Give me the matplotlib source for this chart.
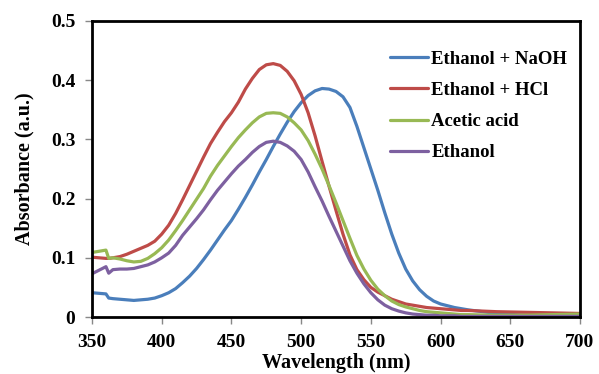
import matplotlib
matplotlib.use('Agg')
import matplotlib.pyplot as plt

plt.rcParams['font.family'] = ['Liberation Serif', 'DejaVu Serif']
plt.rcParams['font.weight'] = 'bold'

# wavelength grid (nm)
wavelength = [350, 355, 360, 362, 365, 370, 375, 380, 385, 390, 395, 400, 405, 410,
              415, 420, 425, 430, 435, 440, 445, 450, 455, 460, 465, 470, 475, 480,
              485, 490, 495, 500, 505, 510, 515, 520, 525, 530, 535, 540, 545, 550,
              555, 560, 565, 570, 575, 580, 585, 590, 595, 600, 605, 610, 615, 620,
              640, 660, 680, 700]

naoh = [0.041, 0.040, 0.039, 0.032, 0.031, 0.030, 0.029, 0.028, 0.029, 0.030, 0.032, 0.036, 0.041, 0.048,
        0.058, 0.069, 0.082, 0.097, 0.113, 0.130, 0.147, 0.163, 0.182, 0.202, 0.223, 0.245, 0.266, 0.288,
        0.309, 0.329, 0.347, 0.362, 0.374, 0.382, 0.386, 0.385, 0.381, 0.372, 0.354, 0.322, 0.286, 0.250,
        0.214, 0.176, 0.140, 0.108, 0.081, 0.061, 0.046, 0.035, 0.027, 0.022, 0.019, 0.016, 0.014, 0.012,
        0.006, 0.003, 0.002, 0.002]

hcl = [0.101, 0.100, 0.099, 0.099, 0.100, 0.102, 0.106, 0.111, 0.116, 0.121, 0.128, 0.140, 0.155, 0.175,
       0.198, 0.222, 0.246, 0.270, 0.293, 0.312, 0.330, 0.345, 0.363, 0.385, 0.403, 0.418, 0.426, 0.428,
       0.425, 0.415, 0.399, 0.376, 0.345, 0.306, 0.263, 0.221, 0.180, 0.140, 0.105, 0.080, 0.063, 0.050,
       0.042, 0.036, 0.030, 0.026, 0.022, 0.020, 0.018, 0.016, 0.015, 0.014, 0.013, 0.012, 0.011, 0.011,
       0.009, 0.008, 0.007, 0.006]

acetic = [0.109, 0.111, 0.113, 0.099, 0.100, 0.098, 0.095, 0.093, 0.094, 0.099, 0.107, 0.117, 0.130, 0.146,
          0.163, 0.181, 0.199, 0.217, 0.238, 0.256, 0.272, 0.288, 0.303, 0.316, 0.328, 0.338, 0.344, 0.345,
          0.344, 0.338, 0.328, 0.316, 0.298, 0.275, 0.250, 0.222, 0.193, 0.163, 0.133, 0.104, 0.081, 0.062,
          0.047, 0.036, 0.027, 0.021, 0.017, 0.014, 0.011, 0.009, 0.008, 0.007, 0.006, 0.005, 0.004, 0.004,
          0.003, 0.003, 0.004, 0.005]

ethanol = [0.073, 0.079, 0.085, 0.074, 0.080, 0.081, 0.081, 0.082, 0.085, 0.088, 0.093, 0.100, 0.108, 0.121,
           0.138, 0.152, 0.166, 0.181, 0.198, 0.214, 0.228, 0.242, 0.255, 0.266, 0.278, 0.288, 0.295, 0.297,
           0.295, 0.289, 0.280, 0.266, 0.245, 0.220, 0.196, 0.170, 0.145, 0.120, 0.095, 0.074, 0.056, 0.041,
           0.029, 0.020, 0.014, 0.010, 0.007, 0.005, 0.004, 0.003, 0.003, 0.002, 0.002, 0.002, 0.001, 0.001,
           0.001, 0.001, 0.001, 0.001]

series = [('Ethanol + NaOH', naoh, '#4A7EBB'),
          ('Ethanol + HCl', hcl, '#BE4B48'),
          ('Acetic acid', acetic, '#98B954'),
          ('Ethanol', ethanol, '#7D60A0')]

x_ticks = [350, 400, 450, 500, 550, 600, 650, 700]
y_ticks = [0, 0.1, 0.2, 0.3, 0.4, 0.5]
y_labels = ['0', '0.1', '0.2', '0.3', '0.4', '0.5']

fig = plt.figure(figsize=(5.99, 3.74), dpi=100)
ax = fig.add_axes([92 / 599, 1 - 317 / 374, 488 / 599, 296 / 374])

for name, vals, col in series:
    ax.plot(wavelength, vals, color=col, lw=2.3, label=name,
            solid_joinstyle='round', solid_capstyle='round')

ax.set_xlim(350, 700)
ax.set_ylim(0, 0.5)
ax.set_xticks(x_ticks)
ax.set_yticks(y_ticks)
ax.set_yticklabels(y_labels)
ax.tick_params(direction='out', length=5, width=1, color='#888888', labelsize=14)
ax.tick_params(axis='x', pad=7)
ax.tick_params(axis='y', pad=7)
for sp in ax.spines.values():
    sp.set_linewidth(2)
    sp.set_color('black')

ax.set_xlabel('Wavelength (nm)', fontsize=14.5, fontweight='bold', labelpad=2)
ax.set_ylabel('Absorbance (a.u.)', fontsize=14.5, fontweight='bold', labelpad=12)

ax.legend(loc='upper left', bbox_to_anchor=(0.611, 0.90), frameon=False,
          fontsize=13.5, handlelength=2.0, handletextpad=0.2, labelspacing=0.75,
          borderpad=0, borderaxespad=0)

fig.savefig('out.png', dpi=100)
